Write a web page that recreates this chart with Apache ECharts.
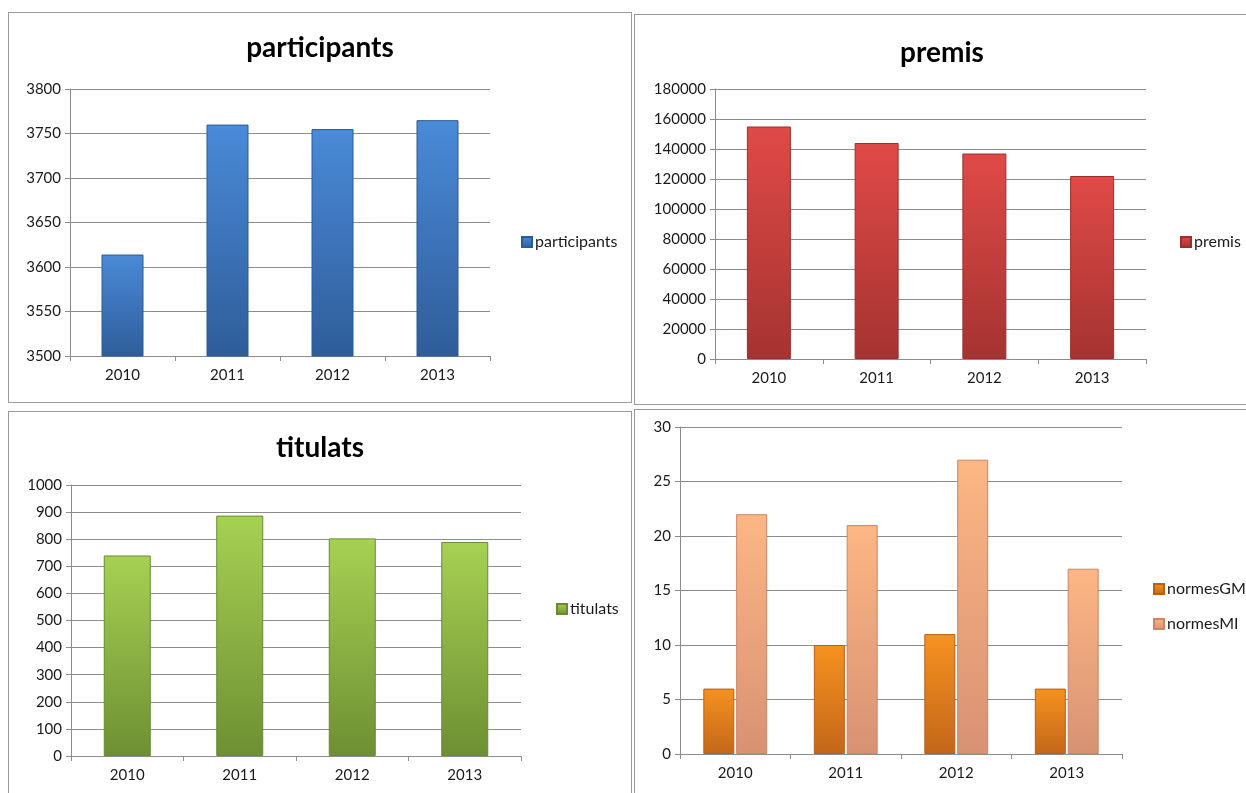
<!DOCTYPE html>
<html>
<head>
<meta charset="utf-8">
<script src="https://cdn.jsdelivr.net/npm/echarts@6/dist/echarts.min.js"></script>
<style>
html,body{margin:0;padding:0;background:#fff;width:1246px;height:793px;overflow:hidden;position:relative;}
.p{position:absolute;border:1px solid #9a9a9a;box-sizing:border-box;background:#fff;}
</style>
</head>
<body>
<div class="p" id="c1" style="left:8px;top:12px;width:624px;height:391px;"></div>
<div class="p" id="c2" style="left:634px;top:14px;width:616px;height:391px;"></div>
<div class="p" id="c3" style="left:8px;top:411px;width:624px;height:392px;"></div>
<div class="p" id="c4" style="left:634px;top:409px;width:616px;height:394px;"></div>
<script>
const years = ['2010', '2011', '2012', '2013'];
const participants = [3614, 3760, 3755, 3765];
const premis = [155000, 144000, 137000, 122000];
const titulats = [740, 887, 803, 790];
const normesGM = [6, 10, 11, 6];
const normesMI = [22, 21, 27, 17];

const participantsTicks = {min: 3500, max: 3800, interval: 50};
const premisTicks = {min: 0, max: 180000, interval: 20000};
const titulatsTicks = {min: 0, max: 1000, interval: 100};
const normesTicks = {min: 0, max: 30, interval: 5};

const FONT = 'Lato, "Open Sans", sans-serif';

function grad(top, bottom) {
  return new echarts.graphic.LinearGradient(0, 0, 0, 1, [
    {offset: 0, color: top}, {offset: 1, color: bottom}
  ]);
}

function makeOption(cfg) {
  return {
    animation: false,
    textStyle: {fontFamily: FONT},
    title: cfg.title ? {
      text: cfg.title, left: 'center', top: cfg.titleTop,
      textStyle: {fontFamily: FONT, fontSize: 28, fontWeight: 'bold', color: '#000'}
    } : undefined,
    legend: {
      orient: 'vertical', left: cfg.legendLeft, top: cfg.legendTop,
      itemWidth: 10, itemHeight: 10, itemGap: cfg.legendGap || 10, icon: 'rect',
      textStyle: {fontFamily: FONT, fontSize: 16, color: '#1a1a1a', padding: [0, 0, 0, -2]}
    },
    grid: {left: cfg.grid[0], top: cfg.grid[1], width: cfg.grid[2], height: cfg.grid[3], containLabel: false},
    xAxis: {
      type: 'category', data: years, boundaryGap: true,
      axisLine: {lineStyle: {color: '#8c8c8c', width: 1}},
      axisTick: {show: true, length: 5, lineStyle: {color: '#8c8c8c'}},
      axisLabel: {fontFamily: FONT, fontSize: 15, color: '#1a1a1a', margin: 12}
    },
    yAxis: {
      type: 'value', min: cfg.ticks.min, max: cfg.ticks.max, interval: cfg.ticks.interval,
      axisLine: {show: true, lineStyle: {color: '#8c8c8c', width: 1}},
      axisTick: {show: true, length: 5, lineStyle: {color: '#8c8c8c'}},
      splitLine: {lineStyle: {color: '#8c8c8c', width: 1}},
      axisLabel: {fontFamily: FONT, fontSize: 15, color: '#1a1a1a', margin: 9,
                  formatter: function (v) { return String(v); }}
    },
    series: cfg.series
  };
}

function barSeries(name, data, top, bottom, edge, width, gap) {
  return {
    name: name, type: 'bar', data: data, barWidth: width, barGap: gap || '10%',
    itemStyle: {color: grad(top, bottom), borderColor: edge, borderWidth: 1}
  };
}

const c1 = echarts.init(document.getElementById('c1'));
c1.setOption(makeOption({
  title: 'participants', titleTop: 16, legendLeft: 507, legendTop: 216,
  grid: [61, 76, 420, 267], ticks: participantsTicks,
  series: [barSeries('participants', participants, '#4a8ad8', '#2f5d9a', '#2c5a94', 42)]
}));

const c2 = echarts.init(document.getElementById('c2'));
c2.setOption(makeOption({
  title: 'premis', titleTop: 19, legendLeft: 540, legendTop: 214,
  grid: [80, 74, 431, 270], ticks: premisTicks,
  series: [barSeries('premis', premis, '#e04a47', '#a53331', '#9a2f2d', 44)]
}));

const c3 = echarts.init(document.getElementById('c3'));
c3.setOption(makeOption({
  title: 'titulats', titleTop: 17, legendLeft: 542, legendTop: 184,
  grid: [62, 73, 450, 271], ticks: titulatsTicks,
  series: [barSeries('titulats', titulats, '#a6d152', '#6e8f33', '#6a8a30', 47)]
}));

const c4 = echarts.init(document.getElementById('c4'));
c4.setOption(makeOption({
  title: null, legendLeft: 513, legendTop: 166, legendGap: 19,
  grid: [45, 17, 442, 327], ticks: normesTicks,
  series: [
    barSeries('normesGM', normesGM, '#f5921f', '#c4661a', '#b85f18', 31, '6%'),
    barSeries('normesMI', normesMI, '#fdb684', '#d79274', '#c98668', 31, '6%')
  ]
}));
</script>
</body>
</html>
